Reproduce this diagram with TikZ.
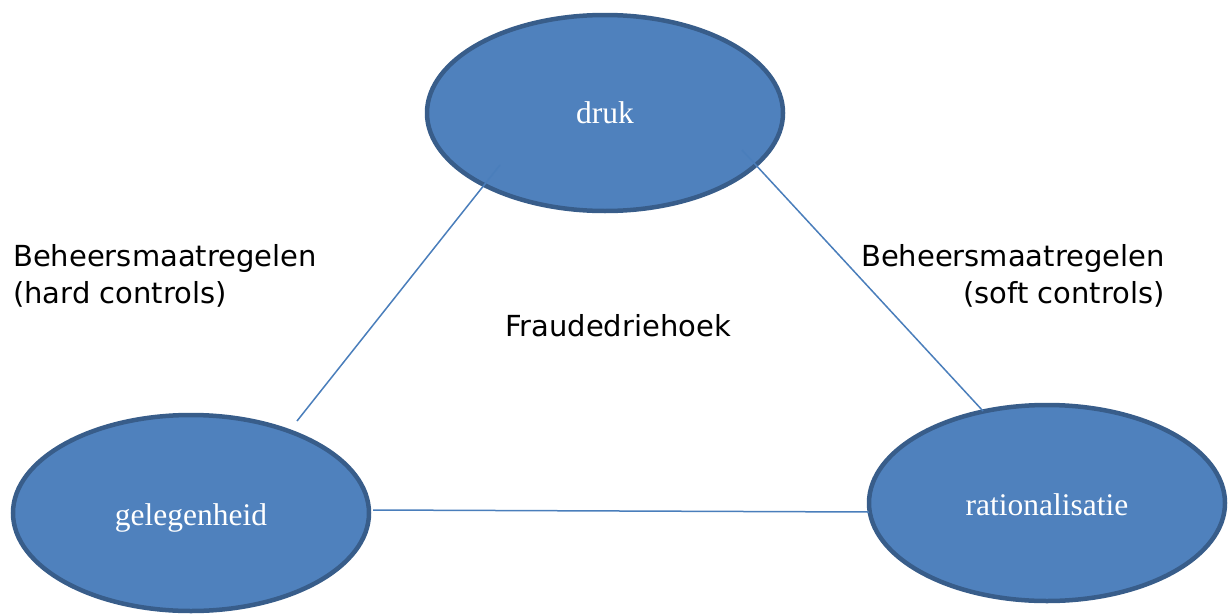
\documentclass[tikz,border=0pt]{standalone}
\usepackage{fontspec}
\setmainfont{Liberation Serif}
\newfontfamily\verdfont{DejaVu Sans}
\usetikzlibrary{shapes.geometric}
\definecolor{ovalfill}{HTML}{4F81BD}
\definecolor{ovaledge}{HTML}{385D8A}
\definecolor{linkblue}{HTML}{4A7EBB}
\tikzset{
  oval/.style={ellipse, draw=ovaledge, fill=ovalfill, line width=4.5pt, minimum width=356pt, minimum height=196pt, inner sep=0pt},
  ovallabel/.style={text=white, font=\fontsize{31.5}{36}\selectfont, inner sep=0pt, anchor=base},
  sidetext/.style={font=\verdfont\fontsize{29}{37}\selectfont, inner sep=0pt},
  link/.style={draw=linkblue, line width=1.5pt}
}
\begin{document}
\begin{tikzpicture}[x=1pt,y=1pt,yscale=-1]
\useasboundingbox (0,0) rectangle (1231,613);
	%Shape: Ellipse [druk]
	\node[oval] (druk) at (605,113) {};
	%Shape: Ellipse [gelegenheid]
	\node[oval] (gelegenheid) at (191,513) {};
	%Shape: Ellipse [rationalisatie]
	\node[oval] (rationalisatie) at (1047,503) {};
	\node[ovallabel] (drukText) at (605,123) {druk};
	\node[ovallabel] (gelegenheidText) at (191,525) {gelegenheid};
	\node[ovallabel] (rationalisatieText) at (1047,515) {rationalisatie};
	%Straight Lines
	\coordinate (dl) at (500,165);
	\coordinate (gt) at (297,421);
	\coordinate (dr) at (742,150);
	\coordinate (rt) at (983,411);
	\coordinate (ge) at (373,510);
	\coordinate (rw) at (869,512);
	\draw[link] (dl) -- (gt);
	\draw[link] (dr) -- (rt);
	\draw[link] (ge) -- (rw);
	%Text
	\node[sidetext, anchor=north west, align=left] (hard) at (13,244) {Beheersmaatregelen\\(hard controls)};
	\node[sidetext, anchor=north east, align=right] (soft) at (1165,244) {Beheersmaatregelen\\(soft controls)};
	\node[sidetext, anchor=base] (fraude) at (618,336) {Fraudedriehoek};
\end{tikzpicture}
\end{document}
